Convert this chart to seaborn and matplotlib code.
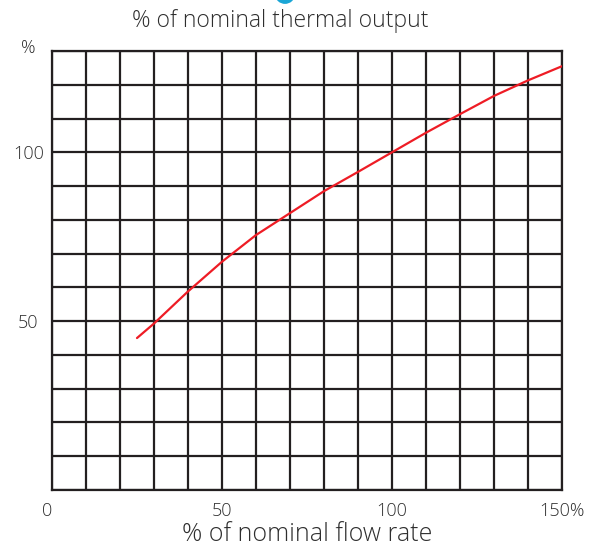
import matplotlib
matplotlib.use("Agg")
import matplotlib.pyplot as plt
import seaborn as sns
import pandas as pd
from matplotlib.patches import Circle

# curve
flow_rate = [25, 30, 40, 50, 60, 70, 80, 90, 100, 110, 120, 130, 140, 150]
thermal_output = [45, 49.3, 58.8, 67.6, 75.5, 82, 88.5, 94.2, 100, 105.8, 111.3, 116.7, 121.3, 125.5]

x_ticks = list(range(0, 151, 10))
x_labels = ["0", "", "", "", "", "50", "", "", "", "", "100", "", "", "", "", "150%"]
y_ticks = list(range(0, 131, 10))
y_labels = ["", "", "", "", "", "50", "", "", "", "", "100", "", "", ""]

df = pd.DataFrame({"flow": flow_rate, "output": thermal_output})

sns.set_style("white")
plt.rcParams["font.family"] = ["Open Sans", "DejaVu Sans"]
plt.rcParams["font.weight"] = "light"
text_color = "#2e2e2e"
grid_color = "#231f20"

fig = plt.figure(figsize=(6.03, 5.48), dpi=100)
ax = fig.add_axes([52 / 603, 58 / 548, 510 / 603, 439 / 548])

sns.lineplot(data=df, x="flow", y="output", color="#ee1c25", linewidth=1.6, ax=ax, zorder=3)

ax.set_xlim(0, 150)
ax.set_ylim(0, 130)
ax.set_xticks(x_ticks)
ax.set_xticklabels(x_labels)
ax.set_yticks(y_ticks)
ax.set_yticklabels(y_labels)
ax.grid(True, color=grid_color, linewidth=1.6)
ax.set_axisbelow(True)
for s in ax.spines.values():
    s.set_visible(True)
    s.set_color(grid_color)
    s.set_linewidth(1.6)

ax.tick_params(axis="x", length=0, pad=9, labelsize=13, labelcolor=text_color)
ax.tick_params(axis="y", length=0, pad=17, labelsize=13, labelcolor=text_color)
for lbl in ax.get_yticklabels():
    lbl.set_horizontalalignment("center")
ax.get_xticklabels()[0].set_horizontalalignment("right")

ax.set_xlabel("% of nominal flow rate", fontsize=18, color=text_color, labelpad=1,
              fontweight="light")
ax.set_ylabel("")

fig.text(280 / 603, 1 - 21 / 548, "% of nominal thermal output", fontsize=16.5,
         color=text_color, ha="center", va="center")
fig.text(28 / 603, 1 - 48 / 548, "%", fontsize=13, color=text_color,
         ha="center", va="center")

# small cyan mark cut off at the top edge
fig.patches.append(Circle((285 / 603, 1 + 5 / 548), 9 / 603, transform=fig.transFigure,
                          color="#1aa6d6", clip_on=False))

fig.savefig("out.png", dpi=100)
